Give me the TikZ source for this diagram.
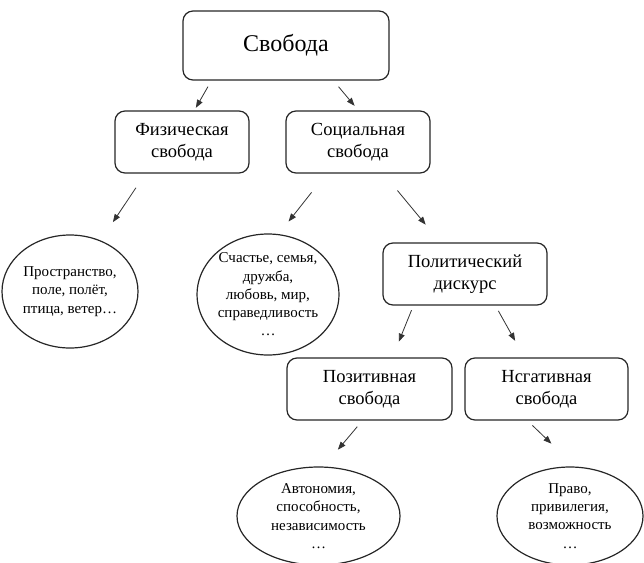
\documentclass[tikz,border=0pt]{standalone}
\usepackage{fontspec}
\setmainfont{Liberation Serif}
\usetikzlibrary{arrows.meta,shapes.geometric}

\begin{document}
\begin{tikzpicture}[
		x=1pt, y=-1pt,
		boxnode/.style={rectangle, rounded corners=10pt, draw=black!85, line width=1.2pt, align=center, inner sep=0pt, font=\fontsize{18.5}{22}\selectfont},
		ovalnode/.style={ellipse, draw=black!85, line width=1.2pt, align=center, inner sep=0pt, font=\fontsize{15}{18.3}\selectfont},
		arrow/.style={-{Triangle[length=8pt,width=6pt]}, draw=black!80, line width=0.8pt},
	]
		\useasboundingbox (0,0) rectangle (644,562);

		% boxes
		\node[boxnode, minimum width=206pt, minimum height=69pt, font=\fontsize{24}{28}\selectfont] (svoboda) at (286,45.5) {Свобода};
		\node[boxnode, minimum width=134pt, minimum height=62pt] (fiz)   at (182,142)   {Физическая\\свобода};
		\node[boxnode, minimum width=144pt, minimum height=62pt] (soc)   at (358,142)   {Социальная\\свобода};
		\node[boxnode, minimum width=164pt, minimum height=62pt] (polit) at (465,274)   {Политический\\дискурс};
		\node[boxnode, minimum width=165pt, minimum height=62pt] (poz)   at (369.5,389) {Позитивная\\свобода};
		\node[boxnode, minimum width=163pt, minimum height=62pt] (neg)   at (546.5,389) {Нсгативная\\свобода};

		% ellipses
		\node[ovalnode, minimum width=136pt, minimum height=113pt] (prostr) at (70,291.5)  {Пространство,\\поле, полёт,\\птица, ветер…};
		\node[ovalnode, minimum width=132pt, minimum height=121pt] (schast) at (268,294.5) {Счастье, семья,\\дружба,\\любовь, мир,\\справедливость\\…};
		\node[ovalnode, minimum width=163pt, minimum height=98pt]  (avt)    at (318.5,516) {Автономия,\\способность,\\независимость\\…};
		\node[ovalnode, minimum width=146pt, minimum height=98pt]  (pravo)  at (570,516)   {Право,\\привилегия,\\возможность\\…};

		% arrows
		\draw[arrow, shorten <=7pt, shorten >=3pt]  ([xshift=29pt]svoboda.south west) -- ([xshift=80pt]fiz.north west);
		\draw[arrow, shorten <=8pt, shorten >=6pt]  ([xshift=151pt]svoboda.south west) -- ([xshift=73pt]soc.north west);
		\draw[arrow, shorten <=17pt, shorten >=22pt] ([xshift=31pt]fiz.south west) -- (prostr.59);
		\draw[arrow, shorten <=24pt, shorten >=16pt] ([xshift=41pt]soc.south west) -- (schast.80);
		\draw[arrow, shorten <=22pt, shorten >=23pt] ([xshift=98pt]soc.south west) -- ([xshift=58pt]polit.north west);
		\draw[arrow, shorten <=5pt, shorten >=17pt]  ([xshift=31pt]polit.south west) -- ([xshift=106pt]poz.north west);
		\draw[arrow, shorten <=6pt, shorten >=19pt]  ([xshift=113pt]polit.south west) -- ([xshift=60pt]neg.north west);
		\draw[arrow, shorten <=8pt, shorten >=22pt]  ([xshift=76pt]poz.south west) -- (avt.84);
		\draw[arrow, shorten <=7pt, shorten >=33pt]  ([xshift=63pt]neg.south west) -- (pravo.84);

	\end{tikzpicture}
\end{document}
